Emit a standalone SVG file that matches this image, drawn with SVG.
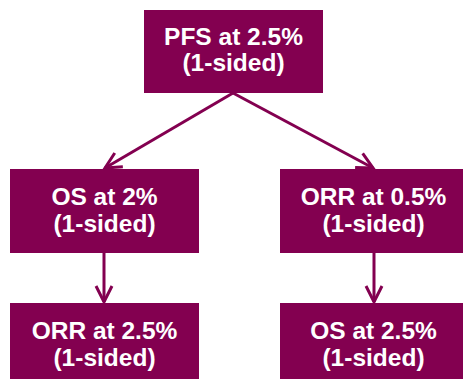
<svg xmlns="http://www.w3.org/2000/svg" width="463" height="379" viewBox="0 0 463 379">
<defs>
<style>
.box{fill:#830050;}
.t{fill:#ffffff;font-family:"Liberation Sans",Arial,sans-serif;font-weight:bold;font-size:24.5px;text-anchor:middle;}
.c{stroke:#830050;stroke-width:3;fill:none;}
</style>
<marker id="ah" markerUnits="userSpaceOnUse" markerWidth="24" markerHeight="24" viewBox="-20 -12 24 24" refX="0" refY="0" orient="auto">
<path d="M-16,-8 L0,0 L-16,8" fill="none" stroke="#830050" stroke-width="3"/>
</marker>
</defs>
<rect width="463" height="379" fill="#ffffff"/>
<g id="connectors">
<path class="c" d="M233,93 L105,168" marker-end="url(#ah)"/>
<path class="c" d="M233,93 L373,168" marker-end="url(#ah)"/>
<path class="c" d="M104,253 L104,302" marker-end="url(#ah)"/>
<path class="c" d="M374,253 L374,302" marker-end="url(#ah)"/>
</g>
<g id="pfs">
<rect class="box" x="144" y="10" width="179" height="83"/>
<text class="t" x="233.5" y="44.5">PFS at 2.5%</text>
<text class="t" x="233.5" y="71">(1-sided)</text>
</g>
<g id="os1">
<rect class="box" x="10" y="169" width="189" height="84"/>
<text class="t" x="104.5" y="205">OS at 2%</text>
<text class="t" x="104.5" y="231.5">(1-sided)</text>
</g>
<g id="orr1">
<rect class="box" x="280" y="169" width="187" height="84"/>
<text class="t" x="373.5" y="205">ORR at 0.5%</text>
<text class="t" x="373.5" y="231.5">(1-sided)</text>
</g>
<g id="orr2">
<rect class="box" x="10" y="303" width="189" height="80"/>
<text class="t" x="104.5" y="339">ORR at 2.5%</text>
<text class="t" x="104.5" y="365.5">(1-sided)</text>
</g>
<g id="os2">
<rect class="box" x="280" y="303" width="187" height="80"/>
<text class="t" x="373.5" y="339">OS at 2.5%</text>
<text class="t" x="373.5" y="365.5">(1-sided)</text>
</g>
</svg>
